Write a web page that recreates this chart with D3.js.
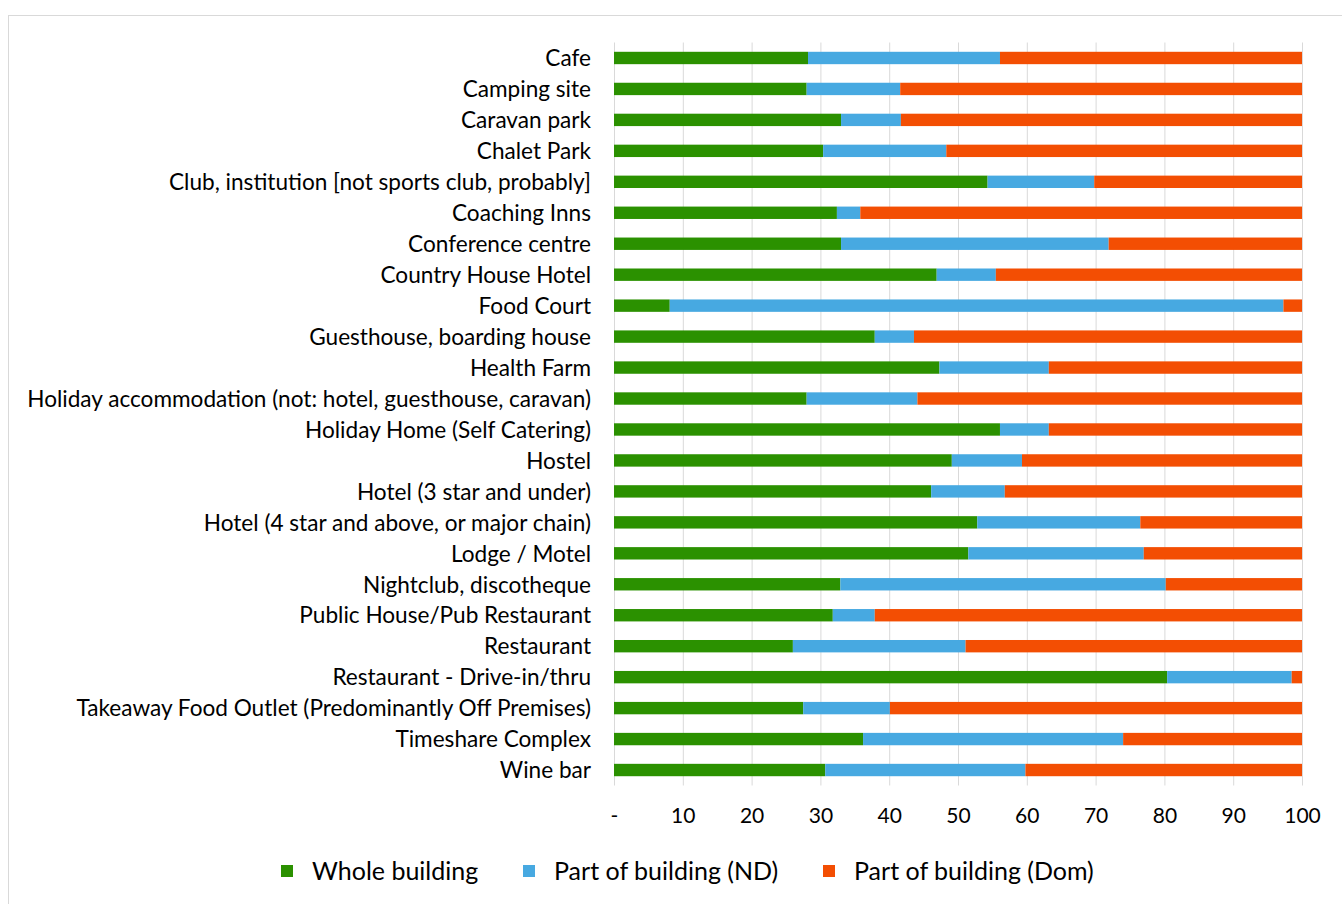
<!DOCTYPE html>
<html>
<head>
<meta charset="utf-8">
<script src="https://cdn.jsdelivr.net/npm/d3@7"></script>
<style>
  body { margin: 0; background: #fff; }
  svg { display: block; font-family: Lato, "Open Sans", sans-serif; }
</style>
</head>
<body>
<div id="chart"></div>
<script>
// Data

var categories = ["Cafe", "Camping site", "Caravan park", "Chalet Park",
  "Club, institution [not sports club, probably]", "Coaching Inns", "Conference centre",
  "Country House Hotel", "Food Court", "Guesthouse, boarding house", "Health Farm",
  "Holiday accommodation (not: hotel, guesthouse, caravan)", "Holiday Home (Self Catering)",
  "Hostel", "Hotel (3 star and under)", "Hotel (4 star and above, or major chain)",
  "Lodge / Motel", "Nightclub, discotheque", "Public House/Pub Restaurant", "Restaurant",
  "Restaurant - Drive-in/thru", "Takeaway Food Outlet (Predominantly Off Premises)",
  "Timeshare Complex", "Wine bar"];

var wholeBuilding = [28.2, 28.0, 33.0, 30.4, 54.3, 32.4, 33.0, 46.9, 8.1, 37.9, 47.3, 28.0,
  56.1, 49.1, 46.1, 52.8, 51.5, 32.9, 31.8, 26.0, 80.4, 27.5, 36.2, 30.7];

var partND = [27.9, 13.6, 8.7, 17.9, 15.5, 3.4, 38.9, 8.6, 89.2, 5.7, 15.9, 16.1,
  7.1, 10.2, 10.7, 23.7, 25.5, 47.3, 6.1, 25.1, 18.1, 12.6, 37.8, 29.1];

var partDom = [43.9, 58.4, 58.3, 51.7, 30.2, 64.2, 28.1, 44.5, 2.7, 56.4, 36.8, 55.9,
  36.8, 40.7, 43.2, 23.5, 23.0, 19.8, 62.1, 48.9, 1.5, 59.9, 26.0, 40.2];

var seriesNames = ["Whole building", "Part of building (ND)", "Part of building (Dom)"];
var seriesColors = ["#2b9100", "#47a9e1", "#f34e03"];
var xTicks = [0, 10, 20, 30, 40, 50, 60, 70, 80, 90, 100];

// Layout

var W = 1342, H = 904;
var plotLeft = 614, plotRight = 1302, plotTop = 42.5, plotBottom = 785.5;

var rows = categories.map(function(c, i) {
  return { cat: c, whole: wholeBuilding[i], nd: partND[i], dom: partDom[i] };
});

var svg = d3.select("#chart").append("svg")
  .attr("width", W)
  .attr("height", H);

svg.append("rect")
  .attr("x", 8.5).attr("y", 15.5)
  .attr("width", W).attr("height", H)
  .style("fill", "#fff").style("stroke", "#d9d9d9").style("stroke-width", 1);

var x = d3.scaleLinear().domain([0, 100]).range([plotLeft, plotRight]);
var y = d3.scaleBand().domain(categories).range([plotTop, plotBottom])
  .paddingInner(0.6).paddingOuter(0.3);

// gridlines

svg.append("g")
  .attr("class", "grid")
  .attr("transform", "translate(0," + plotBottom + ")")
  .call(d3.axisBottom(x).tickValues(xTicks).tickSize(-(plotBottom - plotTop)).tickFormat(""))
  .call(function(g) { g.select(".domain").remove(); })
  .selectAll("line").style("stroke", "#d9d9d9").style("stroke-width", 1);

// bars

var keys = ["whole", "nd", "dom"];
var stacked = d3.stack().keys(keys)(rows);

svg.append("g").selectAll("g").data(stacked).enter().append("g")
  .style("fill", function(d, i) { return seriesColors[i]; })
  .selectAll("rect").data(function(d) { return d; }).enter().append("rect")
  .attr("x", function(d) { return x(d[0]); })
  .attr("width", function(d) { return x(d[1]) - x(d[0]); })
  .attr("y", function(d) { return y(d.data.cat); })
  .attr("height", y.bandwidth());

// axes

var xAxis = svg.append("g")
  .attr("transform", "translate(0," + plotBottom + ")")
  .call(d3.axisBottom(x).tickValues(xTicks).tickSize(0).tickPadding(23)
    .tickFormat(function(d) { return d === 0 ? "-" : d; }));
xAxis.select(".domain").remove();
xAxis.selectAll("text").style("font-family", "Lato, sans-serif").style("font-size", "21px").style("fill", "#000");

var yAxis = svg.append("g")
  .attr("transform", "translate(" + plotLeft + ",1)")
  .call(d3.axisLeft(y).tickSize(0).tickPadding(23));
yAxis.select(".domain").remove();
yAxis.selectAll("text").style("font-family", "Lato, sans-serif").style("font-size", "22.6px").style("fill", "#000");

// legend

var legendX = [281, 523, 823];
var legend = svg.append("g").selectAll("g").data(seriesNames).enter().append("g")
  .attr("transform", function(d, i) { return "translate(" + legendX[i] + ",871)"; });

legend.append("rect")
  .attr("x", 0).attr("y", -6).attr("width", 12).attr("height", 12)
  .style("fill", function(d, i) { return seriesColors[i]; });

legend.append("text")
  .attr("x", 31).attr("dy", "0.35em")
  .style("font-family", "Lato, sans-serif").style("font-size", "25px").style("fill", "#000")
  .text(function(d) { return d; });
</script>
</body>
</html>
